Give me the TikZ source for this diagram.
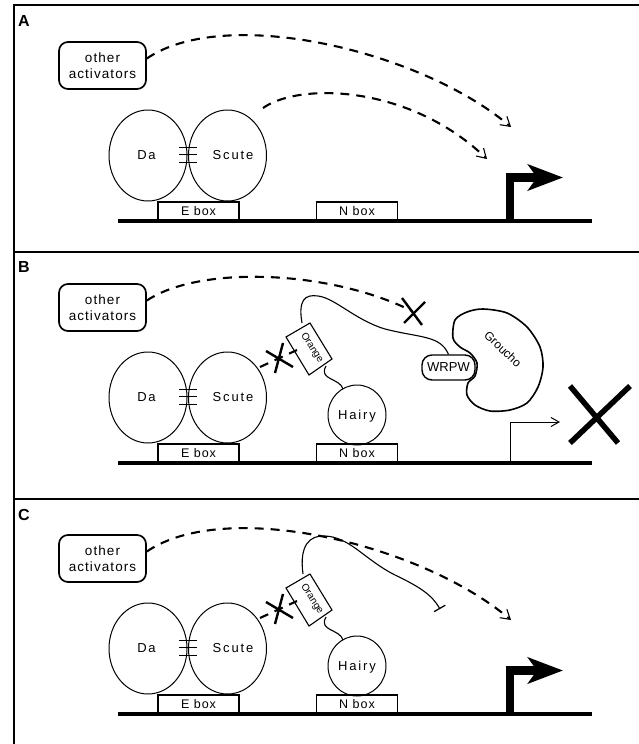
\documentclass[tikz,border=0pt]{standalone}
\usepackage{fontspec}
\setmainfont{Liberation Sans}
\newfontfamily\spaced[LetterSpace=8]{Liberation Sans}
\newfontfamily\wider[LetterSpace=14]{Liberation Sans}
\usetikzlibrary{arrows.meta,shapes.geometric}
\newcommand{\basepanel}[1]{%
  \node[actbox] (oa#1) at (102.5,65.5) {other\\activators};
  \node[prot] (da#1) at (148,155.5) {};
  \node[prot] (sc#1) at (227.5,155.5) {};
  \node[ptext] (tda#1) at (146.5,155.5) {Da};
  \node[ptext] (tsc#1) at (233,155.5) {Scute};
  \draw[bars] (179,147) -- (197,147) (179,154.5) -- (197,154.5) (179,162) -- (197,162);
  \draw[dna] (118,221) -- (592,221);
  \node[site] (eb#1) at (198.5,211) {E box};
  \node[site] (nb#1) at (357,211) {N box};
}
\newcommand{\strongprom}[1]{%
  \coordinate (ps#1) at (510,221);
  \coordinate (pt#1) at (563,177.5);
  \draw[line width=8.5pt,-{Stealth[length=35pt,width=26pt,inset=9pt]}] (ps#1) |- (pt#1);
}
\newcommand{\orangehairy}[1]{%
  \draw[thinline] (286,95) -- (310,81) -- (332,117) -- (309,133) -- cycle;
  \node[otext] (or#1) at (312,106) {Orange};
  \node[prot,minimum width=58pt,minimum height=60pt] (ha#1) at (357,173) {};
  \node[ptext] (tha#1) at (357,174) {Hairy};
  \coordinate (ob#1) at (326,124);
  \draw[thinline] (ob#1) .. controls (318,138) and (340,136) .. (343,147);
  \coordinate (sx#1) at (260,125);
  \coordinate (ox#1) at (297,108);
  \draw[dsh] (sx#1) -- (ox#1);
  \draw[xmark] (266,109) -- (293,125) (283,101) -- (275,131);
}
\begin{document}
\begin{tikzpicture}[x=1pt,y=-1pt,
  frame/.style={line width=1.3pt},
  dna/.style={line width=3.2pt},
  bars/.style={line width=0.9pt},
  thinline/.style={line width=1.1pt},
  actbox/.style={draw,rounded corners=9pt,line width=1.7pt,minimum width=87pt,minimum height=47pt,align=center,inner sep=0pt,font=\fontsize{13.5}{15.5}\selectfont\spaced},
  site/.style={draw,line width=1.6pt,minimum width=81pt,minimum height=18pt,inner sep=0pt,font=\fontsize{12.5}{13}\selectfont\spaced},
  prot/.style={draw,ellipse,line width=1pt,minimum width=78pt,minimum height=91pt,inner sep=0pt},
  ptext/.style={inner sep=0pt,font=\fontsize{13}{14}\selectfont\wider},
  otext/.style={inner sep=0pt,rotate=-57,font=\fontsize{10}{11}\selectfont},
  plabel/.style={inner sep=0pt,anchor=base west,font=\fontsize{16}{18}\selectfont\bfseries},
  dsh/.style={dash pattern=on 9pt off 7pt,line width=2.1pt},
  act/.style={dsh,-{Straight Barb[length=9pt,width=11pt,line width=1.1pt]}},
  xmark/.style={line width=2.4pt},
  bigx/.style={line width=5.5pt},
  pill/.style={draw,rounded corners=10pt,line width=1.4pt,minimum width=53pt,minimum height=25pt,inner sep=0pt,font=\fontsize{13}{14}\selectfont},
]
\useasboundingbox (0,0) rectangle (639,744);
\draw[frame] (14,744) -- (14,5) -- (639,5) (14,252) -- (639,252) (14,499) -- (639,499);
\node[plabel] (lA) at (18,27) {A};
\node[plabel] (lB) at (18,272) {B};
\node[plabel] (lC) at (18,520) {C};

% ---------- Panel A
\begin{scope}
  \basepanel{A}
  \strongprom{A}
  \coordinate (tA1) at (511,127);
  \draw[act] ([yshift=7pt]oaA.east) .. controls (225,5) and (420,50) .. (tA1);
  \coordinate (sA) at (263,108);
  \coordinate (tA2) at (487,159);
  \draw[act] (sA) .. controls (300,82) and (410,85) .. (tA2);
\end{scope}

% ---------- Panel B
\begin{scope}[shift={(0,242)}]
  \basepanel{B}
  \orangehairy{B}
  \coordinate (xB) at (412,69);
  \draw[dsh] ([yshift=7pt]oaB.east) .. controls (200,23) and (330,28) .. (xB);
  \draw[xmark] (402,56) -- (422,83) (425,60) -- (404,81);
  \node[pill] (wr) at (448.5,125.5) {WRPW};
  \coordinate (otB) at (302,81);
  \draw[thinline] (otB) .. controls (298,58) and (305,52) .. (318,54)
     .. controls (335,56) and (355,78) .. (385,87)
     .. controls (420,96) and (440,93) .. (wr.north);
  \draw[line width=1.6pt] plot[smooth cycle,tension=0.5] coordinates {(453,96) (455,78) (467,70) (483,67) (507,71) (527,85) (540,105) (543,125) (538,145) (527,161) (510,168) (490,169) (475,163) (467,153) (468,141) (475,134) (477,121) (470,111) (460,105)};
  \node[inner sep=0pt,rotate=-44,font=\fontsize{12}{13}\selectfont] (gr) at (503,107) {Groucho};
  \coordinate (psB) at (510,221);
  \coordinate (ptB) at (560,180);
  \draw[line width=1pt,-{Straight Barb[length=8pt,width=9pt]}] (psB) |- (ptB);
  \draw[bigx] (570,144) -- (618,201) (630,144) -- (570,201);
\end{scope}

% ---------- Panel C
\begin{scope}[shift={(0,493)}]
  \basepanel{C}
  \orangehairy{C}
  \strongprom{C}
  \coordinate (tC1) at (511,127);
  \draw[act] ([yshift=7pt]oaC.east) .. controls (225,5) and (420,50) .. (tC1);
  \coordinate (otC) at (303,81);
  \coordinate (tbC) at (440,116);
  \draw[thinline,-{Bar[width=13pt,line width=1.3pt]}] (otC) .. controls (299,52) and (310,42) .. (325,43)
     .. controls (350,44) and (365,67) .. (395,82)
     .. controls (420,94) and (432,102) .. (tbC);
\end{scope}
\end{tikzpicture}
\end{document}
